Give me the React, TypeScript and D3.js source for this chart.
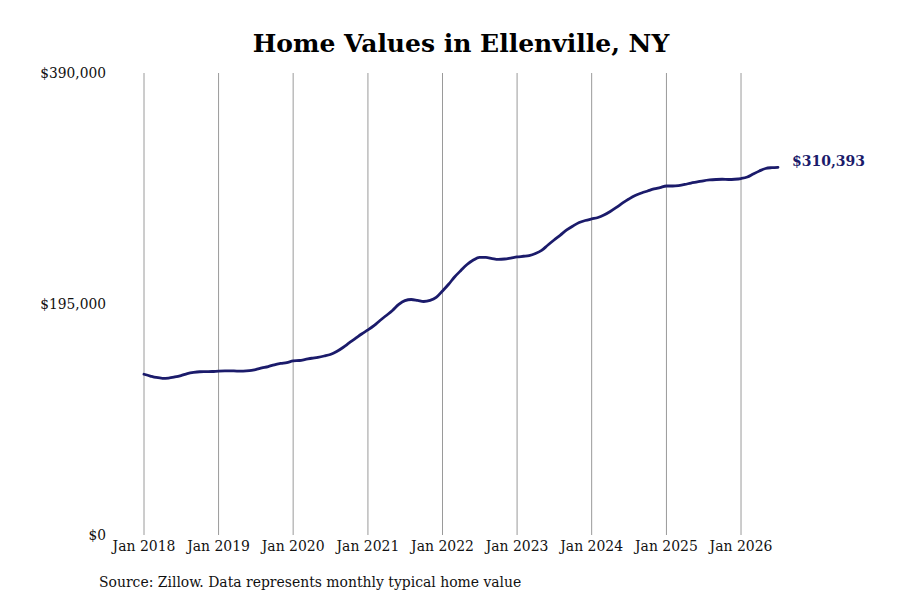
import { useEffect, useRef } from 'react';
import * as d3 from 'd3';

// monthly typical home value, Jan 2018 .. Jul 2026
const values2018 = [135700, 134200, 133000, 132300, 132500, 133400, 134600, 136300, 137300, 137800, 137900, 138000];
const values2019 = [138400, 138600, 138600, 138400, 138400, 138700, 139700, 141000, 142200, 143700, 144800, 145600];
const values2020 = [146900, 147300, 148200, 149200, 150000, 151100, 152400, 154900, 158300, 162100, 165900, 169700];
const values2021 = [173100, 176900, 181100, 185300, 189500, 194600, 197800, 198800, 198000, 197100, 198000, 200500];
const values2022 = [206000, 211900, 217800, 223300, 228300, 232100, 234300, 234300, 233400, 232700, 233000, 233800];
const values2023 = [234700, 235300, 235900, 237600, 240200, 244800, 249000, 253200, 257500, 260800, 263800, 265500];
const values2024 = [266800, 268000, 270100, 273100, 276500, 280300, 283600, 286600, 288700, 290400, 292100, 293300];
const values2025 = [294600, 294600, 295000, 295900, 297100, 298000, 299000, 299700, 300100, 300300, 300100, 300300];
const values2026 = [300900, 302200, 304700, 307300, 309400, 310100, 310393];

const allValues = [
  ...values2018, ...values2019, ...values2020, ...values2021, ...values2022,
  ...values2023, ...values2024, ...values2025, ...values2026,
];

const yTicks = [0, 195000, 390000];
const tickYears = [2018, 2019, 2020, 2021, 2022, 2023, 2024, 2025, 2026];

const TITLE = 'Home Values in Ellenville, NY';
const SOURCE = 'Source: Zillow. Data represents monthly typical home value';

const LINE_COLOR = '#1b1b6b';
const SERIF = "'DejaVu Serif Condensed', 'DejaVu Serif', serif";

export default function App() {
  const svgRef = useRef<SVGSVGElement>(null);

  useEffect(() => {
    if (!svgRef.current) return;
    const svg = d3.select(svgRef.current);
    svg.selectAll('*').remove();

    const width = 900;
    const height = 600;
    const margin = { top: 73, right: 122, bottom: 65, left: 144 };

    const data = allValues.map((v, i) => ({ date: new Date(2018, i, 1), value: v }));

    const x = d3.scaleTime()
      .domain([new Date(2018, 0, 1), new Date(2026, 6, 1)])
      .range([margin.left, width - margin.right]);
    const y = d3.scaleLinear()
      .domain([0, 390000])
      .range([height - margin.bottom, margin.top]);

    svg.attr('width', width).attr('height', height).attr('viewBox', `0 0 ${width} ${height}`);

    // vertical gridlines at each January
    svg.append('g')
      .selectAll('line')
      .data(tickYears)
      .join('line')
      .attr('x1', (d) => x(new Date(d, 0, 1)))
      .attr('x2', (d) => x(new Date(d, 0, 1)))
      .attr('y1', y(390000))
      .attr('y2', y(0))
      .attr('stroke', '#9a9a9a')
      .attr('stroke-width', 1);

    // x tick labels
    svg.append('g')
      .selectAll('text')
      .data(tickYears)
      .join('text')
      .attr('x', (d) => x(new Date(d, 0, 1)))
      .attr('y', y(0) + 16)
      .attr('text-anchor', 'middle')
      .attr('font-family', SERIF)
      .attr('font-stretch', 'condensed')
      .attr('font-size', 15.5)
      .attr('fill', '#111')
      .text((d) => `Jan ${d}`);

    // y tick labels
    svg.append('g')
      .selectAll('text')
      .data(yTicks)
      .join('text')
      .attr('x', 106)
      .attr('y', (d) => y(d) + 5)
      .attr('text-anchor', 'end')
      .attr('font-family', SERIF)
      .attr('font-stretch', 'condensed')
      .attr('font-size', 15.3)
      .attr('fill', '#111')
      .text((d) => `$${d3.format(',')(d)}`);

    const line = d3.line<{ date: Date; value: number }>()
      .x((d) => x(d.date))
      .y((d) => y(d.value))
      .curve(d3.curveMonotoneX);

    svg.append('path')
      .datum(data)
      .attr('d', line)
      .attr('fill', 'none')
      .attr('stroke', LINE_COLOR)
      .attr('stroke-width', 2.8)
      .attr('stroke-linecap', 'round');

    const last = data[data.length - 1];
    svg.append('text')
      .attr('x', x(last.date) + 14)
      .attr('y', y(last.value) - 1)
      .attr('font-family', "'DejaVu Serif', serif")
      .attr('font-weight', 'bold')
      .attr('font-size', 14)
      .attr('fill', LINE_COLOR)
      .text(`$${d3.format(',')(last.value)}`);

    svg.append('text')
      .attr('x', (margin.left + x(last.date)) / 2)
      .attr('y', 52)
      .attr('text-anchor', 'middle')
      .attr('font-family', "'DejaVu Serif', serif")
      .attr('font-weight', 'bold')
      .attr('font-size', 25)
      .attr('fill', '#000')
      .text(TITLE);

    svg.append('text')
      .attr('x', 99)
      .attr('y', 587)
      .attr('font-family', SERIF)
      .attr('font-stretch', 'condensed')
      .attr('font-size', 15.5)
      .attr('fill', '#111')
      .text(SOURCE);
  }, []);

  return (
    <div style={{ position: 'absolute', left: 0, top: 0, width: 900, height: 600, background: '#fff' }}>
      <svg ref={svgRef} />
    </div>
  );
}
